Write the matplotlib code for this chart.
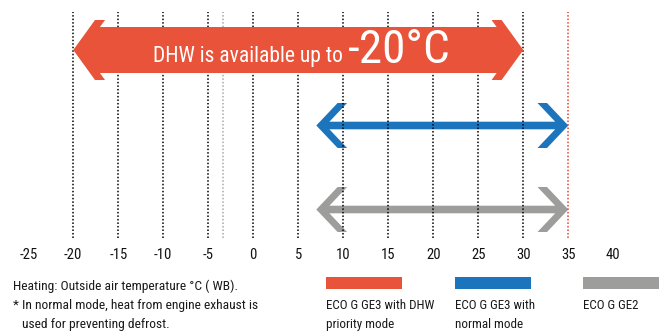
import matplotlib
matplotlib.use("Agg")
import matplotlib.pyplot as plt
from matplotlib.patches import Polygon, Rectangle

plt.rcParams['font.family'] = ['Roboto Condensed', 'DejaVu Sans']
plt.rcParams['font.stretch'] = 'condensed'

# --- data -------------------------------------------------------------
tick_values = [-25, -20, -15, -10, -5, 0, 5, 10, 15, 20, 25, 30, 35, 40]
tick_labels = [str(v) for v in tick_values]
grid_black = [-20, -15, -10, -5, 0, 5, 10, 15, 20, 25, 30]
grid_grey = [-3.4]
grid_red = [35]

series_names = [["ECO G GE3 with DHW", "priority mode"],
                ["ECO G GE3 with", "normal mode"],
                ["ECO G GE2"]]
range_start = [-20, 7, 7]
range_end = [30, 35, 35]
series_colors = ["#E8533A", "#1C75BC", "#9D9D9C"]

note_lines = ["Heating: Outside air temperature \u00b0C ( WB).",
              "* In normal mode, heat from engine exhaust is",
              "used for preventing defrost."]

# --- figure / axes ----------------------------------------------------
W, H = 667, 332
fig = plt.figure(figsize=(W / 100, H / 100), dpi=100)
ax_top, ax_bot = 12, 238          # pixel rows spanned by the plotting area
ax = fig.add_axes([0, 1 - ax_bot / H, 1, (ax_bot - ax_top) / H])
px_per_deg = 9.0
zero_px = 253.3
ax.set_xlim(-zero_px / px_per_deg, (W - zero_px) / px_per_deg)
ax.set_ylim(ax_bot, ax_top)
for s in ax.spines.values():
    s.set_visible(False)
ax.set_yticks([])
ax.set_xticks(tick_values)
ax.set_xticklabels(tick_labels, fontsize=10.5, color="#111111")
ax.tick_params(axis="x", length=0, pad=7.5)
ax.patch.set_alpha(0)

# dotted reference lines
dot = (0, (1.0, 1.3))
for v in grid_black:
    ax.axvline(v, color="black", lw=1.1, ls=dot, zorder=2)
for v in grid_grey:
    ax.axvline(v, color="#a8a8a8", lw=1.1, ls=dot, zorder=2)
for v in grid_red:
    ax.axvline(v, color="#E8412C", lw=1.1, ls=dot, zorder=2)


def double_arrow(x0, x1, yc, head_h, shaft_h, head_dx, cut):
    """Double-headed chevron arrow outline; x in degrees, sizes in pixels."""
    k = 1.0 / px_per_deg
    slope = head_dx / head_h
    inner = head_dx + cut - (head_h - shaft_h) * slope
    top = [(x0, yc),
           (x0 + head_dx * k, yc - head_h),
           (x0 + (head_dx + cut) * k, yc - head_h),
           (x0 + inner * k, yc - shaft_h),
           (x1 - inner * k, yc - shaft_h),
           (x1 - (head_dx + cut) * k, yc - head_h),
           (x1 - head_dx * k, yc - head_h),
           (x1, yc)]
    bottom = [(x, 2 * yc - y) for (x, y) in reversed(top[1:-1])]
    return top + bottom


row_y = [50, 125.5, 209.5]
row_geom = [(30, 23, 21.7, 10), (22.5, 3.8, 21.3, 9.5), (22.5, 3.8, 21.3, 9.5)]
row_z = [3, 1, 1]
for x0, x1, yc, g, c, z in zip(range_start, range_end, row_y, row_geom,
                                series_colors, row_z):
    ax.add_patch(Polygon(double_arrow(x0, x1, yc, *g), closed=True,
                         facecolor=c, edgecolor="none", zorder=z))

fx = lambda px: px / W
fy = lambda py: 1 - py / H

# banner text inside the main arrow
fig.text(fx(343), fy(62), "DHW is available up to", color="white",
         fontsize=15.5, ha="right", va="baseline", zorder=5)
fig.text(fx(348), fy(63), f"{range_start[0]}\u00b0C", color="white",
         fontsize=34, ha="left", va="baseline", zorder=5)

# notes below the scale
text_col = "#1a1a1a"
note_x = [13, 13, 22.5]
line_base = [290, 309, 328]
for lx, ly, s in zip(note_x, line_base, note_lines):
    fig.text(fx(lx), fy(ly), s, fontsize=9.7, color=text_col,
             ha="left", va="baseline")

# legend swatches and labels
leg_x = [326, 455, 583]
for lx, name, c in zip(leg_x, series_names, series_colors):
    fig.patches.append(Rectangle((fx(lx), fy(289)), 76 / W, 11.7 / H,
                                 transform=fig.transFigure, facecolor=c,
                                 edgecolor="none"))
    for s, ly in zip(name, line_base[1:]):
        fig.text(fx(lx), fy(ly), s, fontsize=9.4, color=text_col,
                 ha="left", va="baseline")

fig.savefig("out.png", dpi=100)
